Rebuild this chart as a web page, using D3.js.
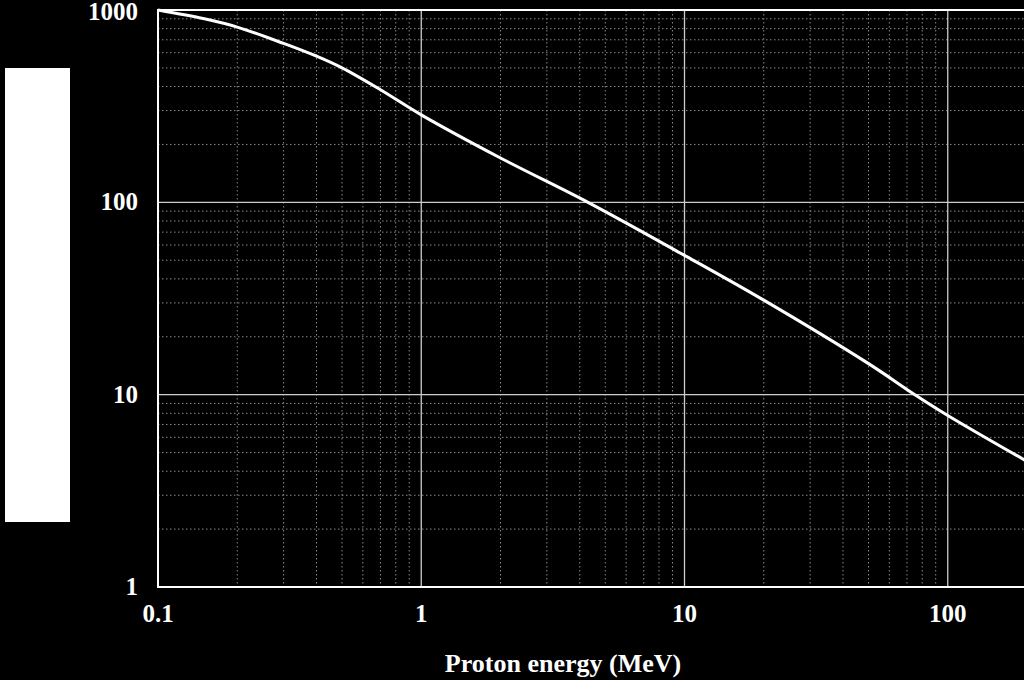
<!DOCTYPE html><html><head><meta charset="utf-8"><script src="https://cdn.jsdelivr.net/npm/d3@7"></script>
<style>body{margin:0;background:#000}svg{display:block}</style></head><body><svg width="1024" height="680"></svg>
<script>
const energy=[0.1,0.15,0.2,0.3,0.4,0.5,0.7,1,2,4.3,10,20,50,75,100,200];
const values=[1000,900,815,670,575,500,385,285,170,100,53,31,14.5,10,7.8,4.5];
const xTicks=[0.1,1,10,100];
const yTicks=[1,10,100,1000];
const svg=d3.select("svg");
const x=d3.scaleLog().domain([0.1,200]).range([158,1027]);
const y=d3.scaleLog().domain([1,1000]).range([587,10]);
const g=svg.append("g");
const minorX=[],minorY=[];
for(let d=0.1;d<200;d*=10)for(let k=2;k<=9;k++)if(d*k<=200)minorX.push(d*k);
for(let d=1;d<1000;d*=10)for(let k=2;k<=9;k++)minorY.push(d*k);
g.selectAll(".mx").data(minorX).join("line").attr("x1",x).attr("x2",x).attr("y1",10).attr("y2",587).attr("stroke","#888").attr("stroke-dasharray","1.5,2.5");
g.selectAll(".my").data(minorY).join("line").attr("y1",y).attr("y2",y).attr("x1",158).attr("x2",1024).attr("stroke","#888").attr("stroke-dasharray","1.5,2.5");
g.selectAll(".Mx").data(xTicks.slice(1)).join("line").attr("x1",x).attr("x2",x).attr("y1",10).attr("y2",587).attr("stroke","#ccc").attr("stroke-width",1.3);
g.selectAll(".My").data(yTicks.slice(1,3)).join("line").attr("y1",y).attr("y2",y).attr("x1",158).attr("x2",1024).attr("stroke","#ccc").attr("stroke-width",1.3);
svg.append("rect").attr("x",158).attr("y",10).attr("width",900).attr("height",577).attr("fill","none").attr("stroke","#fff").attr("stroke-width",2);
svg.append("path").datum(energy.map((e,i)=>[e,values[i]])).attr("d",d3.line().x(d=>x(d[0])).y(d=>y(d[1])).curve(d3.curveCatmullRom.alpha(0.5))).attr("fill","none").attr("stroke","#fff").attr("stroke-width",3);
const f="Liberation Serif, Times New Roman, serif";
svg.selectAll(".xt").data(xTicks).join("text").attr("x",d=>x(d)).attr("y",622).attr("text-anchor","middle").attr("fill","#fff").attr("font-family",f).attr("font-weight","bold").attr("font-size",25).text(d=>d3.format("~g")(d));
svg.selectAll(".yt").data(yTicks).join("text").attr("x",138).attr("y",d=>Math.max(y(d)+8,20)).attr("text-anchor","end").attr("fill","#fff").attr("font-family",f).attr("font-weight","bold").attr("font-size",25).text(d=>d);
svg.append("text").attr("x",563).attr("y",672).attr("text-anchor","middle").attr("fill","#fff").attr("font-family",f).attr("font-weight","bold").attr("font-size",26).text("Proton energy (MeV)");
svg.append("rect").attr("x",5).attr("y",68).attr("width",65).attr("height",454).attr("fill","#fff");
</script></body></html>
